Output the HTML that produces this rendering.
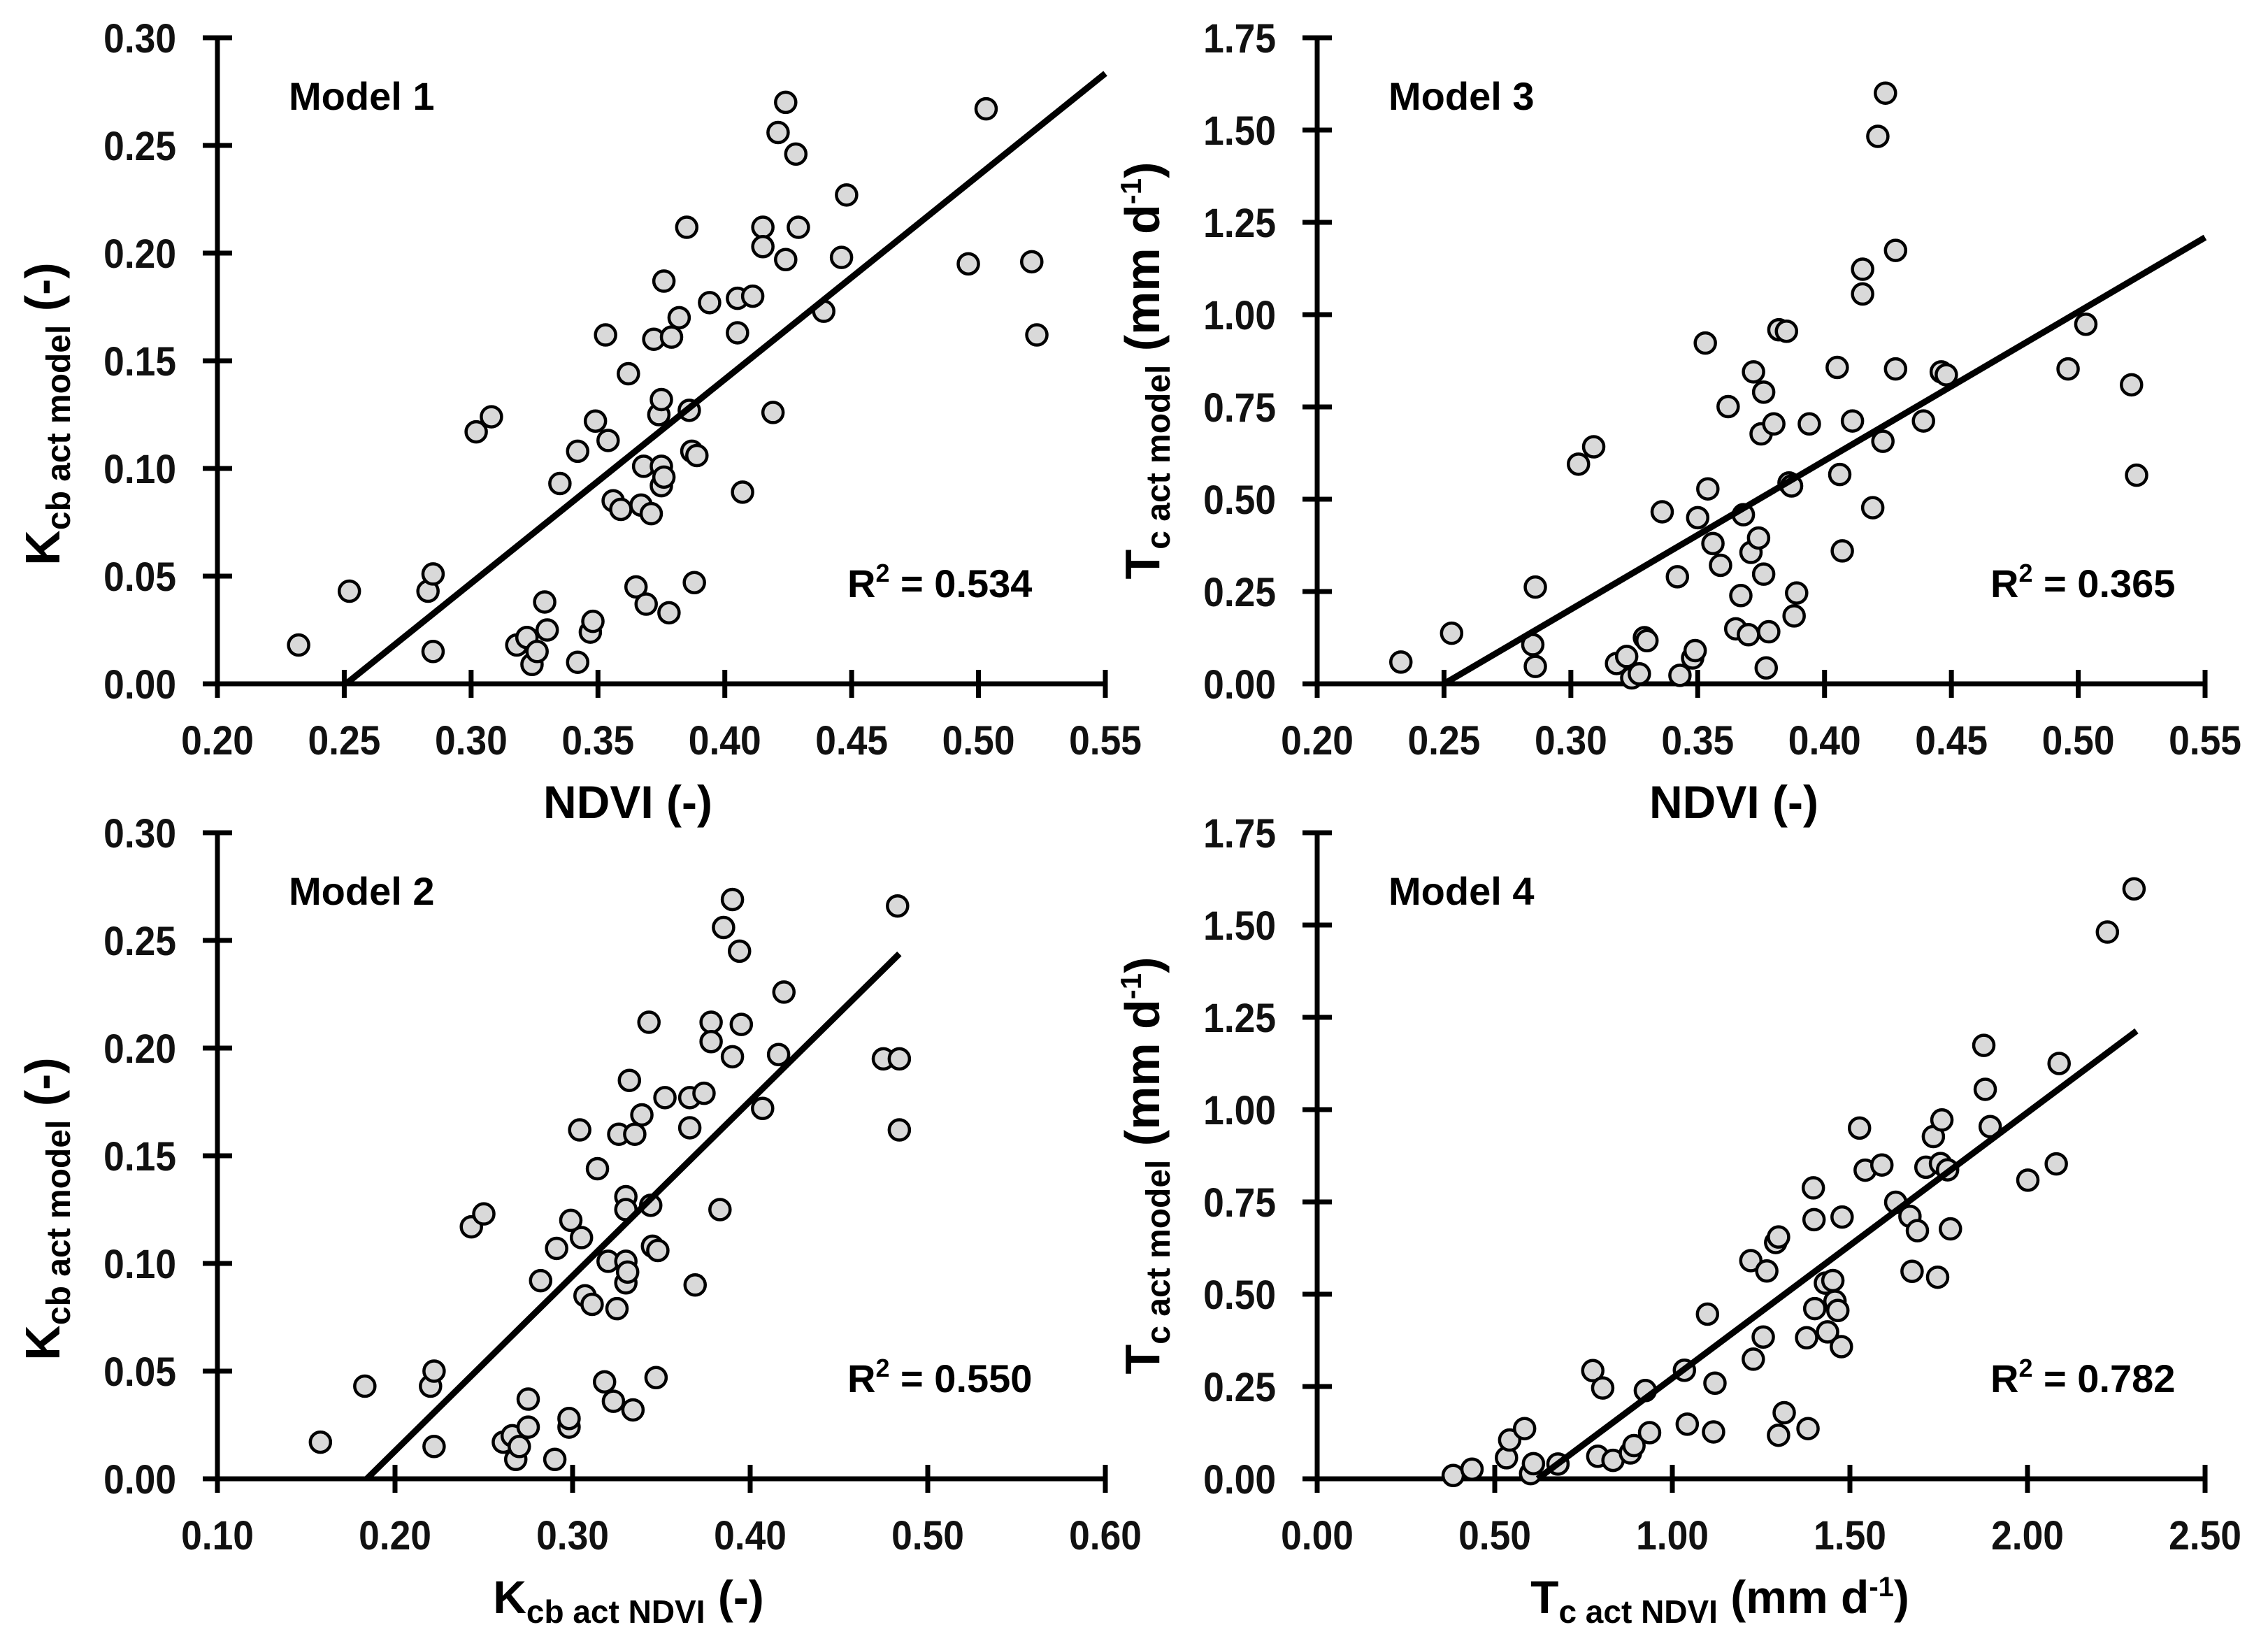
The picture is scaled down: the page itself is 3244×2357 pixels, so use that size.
<!DOCTYPE html>
<html><head><meta charset="utf-8">
<style>
html,body{margin:0;padding:0;background:#fff;}
svg{display:block;font-family:"Liberation Sans",sans-serif;font-weight:bold;}
</style></head>
<body>
<svg id="fig" width="3244" height="2357" viewBox="0 0 3244 2357" xmlns="http://www.w3.org/2000/svg"></svg>
<script>
// ---- Model 1 data (NDVI vs Kcb act model) ----
const m1x = [0.232,0.252,0.283,0.285,0.285,0.302,0.308,0.318,0.322,0.324,0.326,0.329,0.330,0.335,0.342,0.342,0.347,0.348,0.349,0.353,0.354,0.356,0.359,0.362,0.365,0.367,0.368,0.369,0.371,0.372,0.374,0.375,0.375,0.375,0.376,0.376,0.378,0.379,0.382,0.385,0.386,0.387,0.388,0.389,0.394,0.405,0.405,0.407,0.411,0.415,0.415,0.419,0.421,0.424,0.424,0.428,0.429,0.439,0.446,0.448,0.496,0.503,0.521,0.523];
const m1y = [0.018,0.043,0.043,0.051,0.015,0.117,0.124,0.018,0.0215,0.009,0.015,0.038,0.025,0.093,0.010,0.108,0.024,0.029,0.122,0.162,0.113,0.085,0.081,0.144,0.045,0.083,0.101,0.037,0.079,0.160,0.125,0.132,0.101,0.092,0.096,0.187,0.033,0.161,0.170,0.212,0.127,0.108,0.047,0.106,0.177,0.163,0.179,0.089,0.180,0.212,0.203,0.126,0.256,0.270,0.197,0.246,0.212,0.173,0.198,0.227,0.195,0.267,0.196,0.162];
const m1fit = [0.947, -0.2374, 0.2507, 0.55]; // slope, intercept, xStart, xEnd
// ---- Model 2 data (Kcb act NDVI vs Kcb act model) ----
const m2x = [0.158,0.183,0.220,0.222,0.222,0.243,0.250,0.261,0.266,0.268,0.270,0.275,0.275,0.282,0.290,0.291,0.298,0.298,0.299,0.304,0.305,0.307,0.311,0.314,0.318,0.320,0.323,0.325,0.326,0.330,0.330,0.330,0.330,0.331,0.332,0.334,0.335,0.339,0.343,0.344,0.345,0.347,0.348,0.352,0.366,0.366,0.369,0.374,0.378,0.378,0.383,0.385,0.390,0.390,0.394,0.395,0.407,0.416,0.419,0.475,0.484,0.484,0.483];
const m2y = [0.017,0.043,0.043,0.050,0.015,0.117,0.123,0.017,0.020,0.009,0.015,0.037,0.024,0.092,0.009,0.107,0.024,0.028,0.120,0.162,0.112,0.085,0.081,0.144,0.045,0.101,0.036,0.079,0.160,0.131,0.125,0.101,0.091,0.096,0.185,0.032,0.160,0.169,0.212,0.127,0.108,0.047,0.106,0.177,0.163,0.177,0.090,0.179,0.212,0.203,0.125,0.256,0.269,0.196,0.245,0.211,0.172,0.197,0.226,0.195,0.195,0.162,0.266];
const m2fit = [0.813, -0.1497, 0.184, 0.484];
// ---- Model 3 data (NDVI vs Tc act model) ----
const m3x = [0.233,0.253,0.285,0.286,0.286,0.303,0.309,0.318,0.322,0.324,0.327,0.329,0.330,0.336,0.342,0.343,0.348,0.349,0.350,0.353,0.354,0.356,0.359,0.362,0.365,0.367,0.368,0.370,0.371,0.372,0.374,0.375,0.376,0.376,0.377,0.378,0.380,0.382,0.385,0.386,0.387,0.388,0.389,0.394,0.405,0.406,0.407,0.411,0.415,0.415,0.419,0.421,0.424,0.423,0.428,0.428,0.439,0.446,0.448,0.496,0.503,0.521,0.523];
const m3y = [0.059,0.137,0.106,0.262,0.047,0.595,0.642,0.055,0.074,0.016,0.027,0.125,0.117,0.466,0.290,0.023,0.070,0.090,0.450,0.923,0.528,0.380,0.321,0.751,0.149,0.239,0.458,0.133,0.356,0.845,0.395,0.677,0.790,0.297,0.043,0.141,0.704,0.959,0.955,0.544,0.536,0.184,0.246,0.704,0.857,0.567,0.360,0.712,1.123,1.056,0.477,1.483,1.600,0.657,1.174,0.853,0.712,0.845,0.837,0.853,0.974,0.810,0.565];
const m3fit = [4.03, -1.0075, 0.25, 0.55];
// ---- Model 4 data (Tc act NDVI vs Tc act model) ----
const m4x = [0.383,0.436,0.533,0.542,0.584,0.601,0.609,0.678,0.776,0.804,0.790,0.833,0.882,0.892,0.924,0.936,1.034,1.042,1.099,1.120,1.116,1.221,1.228,1.256,1.266,1.291,1.299,1.299,1.315,1.378,1.382,1.397,1.399,1.401,1.431,1.437,1.452,1.458,1.466,1.476,1.478,1.527,1.543,1.590,1.629,1.669,1.690,1.675,1.714,1.735,1.747,1.755,1.759,1.775,1.783,1.877,1.881,1.895,2.001,2.081,2.089,2.225,2.300];
const m4y = [0.009,0.026,0.057,0.105,0.136,0.014,0.041,0.040,0.293,0.246,0.061,0.050,0.070,0.090,0.239,0.125,0.294,0.148,0.446,0.259,0.127,0.591,0.324,0.384,0.563,0.640,0.655,0.118,0.179,0.382,0.136,0.788,0.702,0.461,0.530,0.398,0.537,0.481,0.456,0.358,0.709,0.950,0.836,0.850,0.749,0.711,0.672,0.562,0.844,0.927,0.546,0.854,0.972,0.837,0.677,1.174,1.055,0.954,0.809,0.853,1.125,1.481,1.598];
const m4fit = [0.7195, -0.4468, 0.621, 2.307];
// ---- tick labels ----
const xTicksNDVI = ["0.20","0.25","0.30","0.35","0.40","0.45","0.50","0.55"];
const xTicksKcb = ["0.10","0.20","0.30","0.40","0.50","0.60"];
const xTicksTc = ["0.00","0.50","1.00","1.50","2.00","2.50"];
const yTicksKcb = ["0.00","0.05","0.10","0.15","0.20","0.25","0.30"];
const yTicksTc = ["0.00","0.25","0.50","0.75","1.00","1.25","1.50","1.75"];
const r2Values = ["0.534","0.550","0.365","0.782"];

const NS = "http://www.w3.org/2000/svg";
const svg = document.getElementById('fig');
function mk(tag, attrs, parent){
  const e = document.createElementNS(NS, tag);
  for (const k in attrs) e.setAttribute(k, attrs[k]);
  (parent||svg).appendChild(e);
  return e;
}

function panel(cfg){
  const g = mk('g', {});
  
  
  const L = cfg.left, R = cfg.left + 1270, T = cfg.top, B = cfg.top + 924;
  const sx = v => L + (v - cfg.xmin) / (cfg.xmax - cfg.xmin) * (R - L);
  const sy = v => B - (v - cfg.ymin) / (cfg.ymax - cfg.ymin) * (B - T);
  const ya = mk('line', {x1:L, y1:T, x2:L, y2:B, stroke:'#000', 'stroke-width':7}, g);
  
  
  const xa = mk('line', {x1:L-21, y1:B, x2:R, y2:B, stroke:'#000', 'stroke-width':7}, g);
  
  
  cfg.yTicks.forEach((t, i) => {
    const v = cfg.ymin + i * (cfg.ymax - cfg.ymin) / (cfg.yTicks.length - 1);
    const y = sy(v);
    const tk = mk('line', {x1:L-21, y1:y, x2:L+21, y2:y, stroke:'#000', 'stroke-width':7}, g);
    
    
    const tx = mk('text', {x:0, y:0, 'font-size':58, 'text-anchor':'end', fill:'#111', transform:`translate(${L-59},${y+21}) scale(0.92,1)`}, g);
    tx.textContent = t;
    
    
  });
  cfg.xTicks.forEach((t, i) => {
    const v = cfg.xmin + i * (cfg.xmax - cfg.xmin) / (cfg.xTicks.length - 1);
    const x = sx(v);
    const tk = mk('line', {x1:x, y1:B-20, x2:x, y2:B+20, stroke:'#000', 'stroke-width':7}, g);
    
    
    const tx = mk('text', {x:0, y:0, 'font-size':58, 'text-anchor':'middle', fill:'#111', transform:`translate(${x},${B+101}) scale(0.92,1)`}, g);
    tx.textContent = t;
    
    
  });
  cfg.xs.forEach((xv, i) => {
    const c = mk('circle', {cx:sx(xv), cy:sy(cfg.ys[i]), r:14.5, fill:'#d9d9d9', stroke:'#000', 'stroke-width':4.5}, g);
    
    
  });
  const f = cfg.fit;
  const ln = mk('line', {x1:sx(f[2]), y1:sy(f[0]*f[2]+f[1]), x2:sx(f[3]), y2:sy(f[0]*f[3]+f[1]), stroke:'#000', 'stroke-width':9}, g);
  
  
  const ml = mk('text', {x:L+102, y:T+103, 'font-size':56, fill:'#000'}, g);
  ml.textContent = cfg.model;
  
  
  const r2 = mk('text', {x:L+cfg.r2dx, y:T+800, 'font-size':56, fill:'#000'}, g);
  
  
  const a = mk('tspan', {}, r2); a.textContent = 'R';
  const b = mk('tspan', {dy:-22, 'font-size':36}, r2); b.textContent = '2';
  const c2 = mk('tspan', {dy:22}, r2); c2.textContent = ' = ' + cfg.r2;
  const xt = mk('text', {x:cfg.xtX, y:B+192, 'font-size':66, 'text-anchor':'middle', fill:'#000'}, g);
  
  
  cfg.xTitle.forEach(p => { const s = mk('tspan', p.a, xt); s.textContent = p.t; });
  const yt = mk('text', {x:0, y:0, 'font-size':70, 'text-anchor':'middle', fill:'#000', transform:`translate(${L-226},${cfg.ytY}) rotate(-90)`}, g);
  
  
  cfg.yTitle.forEach(p => { const s = mk('tspan', p.a, yt); s.textContent = p.t; });
}

const kcbModelTitle = [{t:'K',a:{}},{t:'cb act model',a:{'font-size':48,dy:15}},{t:' (-)',a:{dy:-15}}];
const tcModelTitle = [{t:'T',a:{}},{t:'c act model',a:{'font-size':48,dy:15}},{t:' (mm d',a:{dy:-15}},{t:'-1',a:{'font-size':42,dy:-26}},{t:')',a:{dy:26}}];

panel({name:'panel-model-1', left:311, top:54, xmin:0.20, xmax:0.55, ymin:0, ymax:0.30,
  xTicks:xTicksNDVI, yTicks:yTicksKcb, xs:m1x, ys:m1y, fit:m1fit, model:'Model 1', r2:r2Values[0], r2dx:901,
  xtX:898, xTitle:[{t:'NDVI (-)',a:{}}], ytY:592, yTitle:kcbModelTitle});
panel({name:'panel-model-2', left:311, top:1191, xmin:0.10, xmax:0.60, ymin:0, ymax:0.30,
  xTicks:xTicksKcb, yTicks:yTicksKcb, xs:m2x, ys:m2y, fit:m2fit, model:'Model 2', r2:r2Values[1], r2dx:901,
  xtX:899, xTitle:[{t:'K',a:{}},{t:'cb act NDVI',a:{'font-size':46,dy:14}},{t:' (-)',a:{dy:-14}}], ytY:1729, yTitle:kcbModelTitle});
panel({name:'panel-model-3', left:1884, top:54, xmin:0.20, xmax:0.55, ymin:0, ymax:1.75,
  xTicks:xTicksNDVI, yTicks:yTicksTc, xs:m3x, ys:m3y, fit:m3fit, model:'Model 3', r2:r2Values[2], r2dx:963,
  xtX:2480, xTitle:[{t:'NDVI (-)',a:{}}], ytY:530, yTitle:tcModelTitle});
panel({name:'panel-model-4', left:1884, top:1191, xmin:0, xmax:2.50, ymin:0, ymax:1.75,
  xTicks:xTicksTc, yTicks:yTicksTc, xs:m4x, ys:m4y, fit:m4fit, model:'Model 4', r2:r2Values[3], r2dx:963,
  xtX:2460, xTitle:[{t:'T',a:{}},{t:'c act NDVI',a:{'font-size':46,dy:14}},{t:' (mm d',a:{dy:-14}},{t:'-1',a:{'font-size':40,dy:-24}},{t:')',a:{dy:24}}], ytY:1667, yTitle:tcModelTitle});
</script>
</body></html>
